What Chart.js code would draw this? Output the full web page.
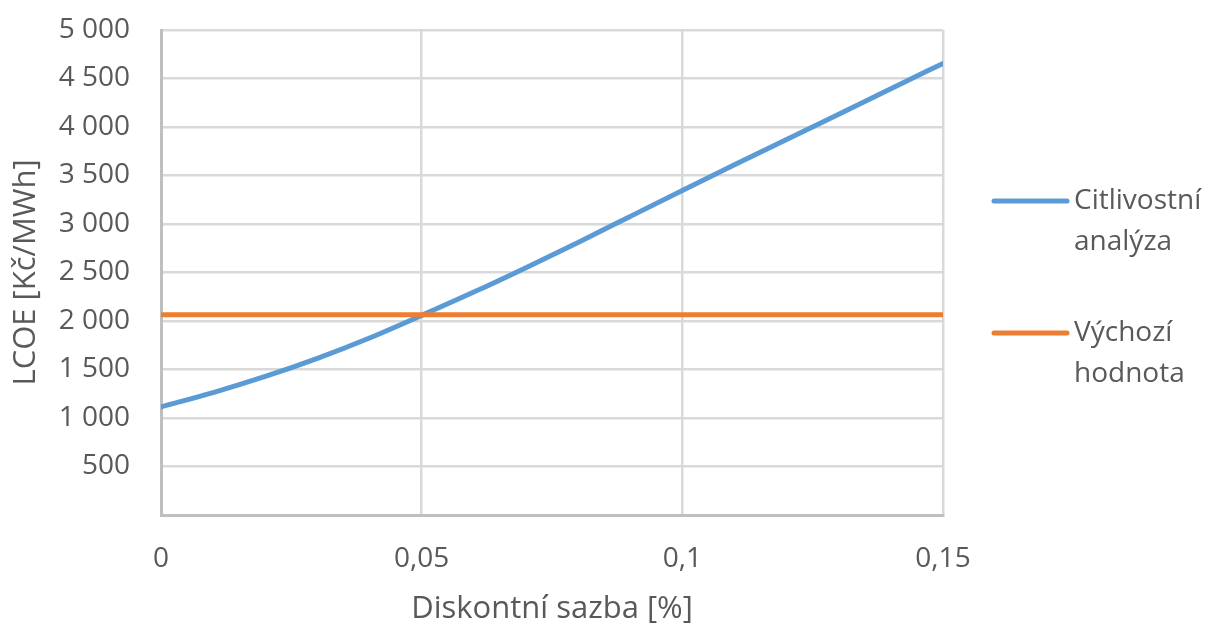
<!DOCTYPE html>
<html lang="cs">
<head>
<meta charset="utf-8">
<title>LCOE – citlivostní analýza</title>
<script src="https://cdn.jsdelivr.net/npm/chart.js@4.4.1/dist/chart.umd.min.js"></script>
<style>
  html, body { margin: 0; padding: 0; background: #ffffff; }
  #wrap { width: 1205px; height: 625px; position: relative; }
</style>
</head>
<body>
<div id="wrap"><canvas id="chart" width="1205" height="625"></canvas></div>
<script>
// Discount rate (x) and LCOE values in Kč/MWh
const discountRates = [0, 0.01, 0.02, 0.03, 0.04, 0.05, 0.06, 0.07, 0.08, 0.09, 0.10, 0.11, 0.12, 0.13, 0.14, 0.15];
const sensitivityLcoe = [1115, 1262, 1428, 1615, 1825, 2058, 2298, 2550, 2810, 3078, 3345, 3610, 3872, 4132, 4395, 4655];
const baselineRates = [0, 0.15];
const baselineLcoe = [2065, 2065];

const seriesNames = [['Citlivostní', 'analýza'], ['Výchozí', 'hodnota']];
const seriesColors = ['#5B9BD5', '#ED7D31'];

const xTickLabels = ['0', '0,05', '0,1', '0,15'];
const yTickLabels = ['', '500', '1 000', '1 500', '2 000', '2 500', '3 000', '3 500', '4 000', '4 500', '5 000'];

const textColor = '#595959';
const fontFamily = '"Open Sans", "Noto Sans", sans-serif';
const tickSize = 28;
const titleSize = 31;
const legendSize = 28;

const toPoints = (xs, ys) => xs.map((x, i) => ({ x, y: ys[i] }));

// Two-line legend on the right, drawn next to the plot area
const sideLegend = {
  id: 'sideLegend',
  afterDraw(chart) {
    const { ctx, chartArea } = chart;
    const x0 = chartArea.right + 51;
    const lineLen = 73;
    const textX = x0 + lineLen + 7;
    const lineGap = 41;
    const firstY = chartArea.top + 171;
    const entryGap = 132;
    ctx.save();
    ctx.font = legendSize + 'px ' + fontFamily;
    ctx.textBaseline = 'middle';
    ctx.textAlign = 'left';
    seriesNames.forEach((lines, i) => {
      const y = firstY + i * entryGap;
      ctx.strokeStyle = seriesColors[i];
      ctx.lineWidth = 5;
      ctx.lineCap = 'round';
      ctx.beginPath();
      ctx.moveTo(x0, y);
      ctx.lineTo(x0 + lineLen, y);
      ctx.stroke();
      ctx.fillStyle = textColor;
      lines.forEach((t, j) => ctx.fillText(t, textX, y + j * lineGap));
    });
    ctx.restore();
  }
};

new Chart(document.getElementById('chart'), {
  type: 'scatter',
  data: {
    datasets: [
      {
        label: seriesNames[0].join(' '),
        data: toPoints(discountRates, sensitivityLcoe),
        showLine: true,
        borderColor: seriesColors[0],
        backgroundColor: seriesColors[0],
        borderWidth: 5,
        pointRadius: 0,
        cubicInterpolationMode: 'monotone',
        borderCapStyle: 'round',
        order: 1
      },
      {
        label: seriesNames[1].join(' '),
        data: toPoints(baselineRates, baselineLcoe),
        showLine: true,
        borderColor: seriesColors[1],
        backgroundColor: seriesColors[1],
        borderWidth: 5,
        pointRadius: 0,
        borderCapStyle: 'round',
        order: 0
      }
    ]
  },
  options: {
    responsive: false,
    animation: false,
    devicePixelRatio: 1,
    layout: { padding: { top: 0, right: 262, left: 0, bottom: 0 } },
    plugins: {
      legend: { display: false },
      tooltip: { enabled: false }
    },
    scales: {
      x: {
        type: 'linear',
        min: 0,
        max: 0.15,
        ticks: {
          stepSize: 0.05,
          color: textColor,
          font: { family: fontFamily, size: tickSize },
          padding: 27,
          maxRotation: 0,
          callback: (v, i) => xTickLabels[i]
        },
        grid: { color: '#d9d9d9', lineWidth: 2.5, drawTicks: false },
        border: { color: '#bfbfbf', width: 3 },
        title: {
          display: true,
          text: 'Diskontní sazba [%]',
          color: textColor,
          font: { family: fontFamily, size: titleSize, lineHeight: 1 },
          padding: { top: 0, bottom: 0 }
        },
        afterFit: (s) => { s.height = 110; }
      },
      y: {
        type: 'linear',
        min: 0,
        max: 5000,
        ticks: {
          stepSize: 500,
          color: textColor,
          font: { family: fontFamily, size: tickSize },
          padding: 31,
          callback: (v, i) => yTickLabels[i]
        },
        grid: { color: '#d9d9d9', lineWidth: 2.5, drawTicks: false },
        border: { color: '#bfbfbf', width: 3 },
        title: {
          display: true,
          text: 'LCOE [Kč/MWh]',
          color: textColor,
          font: { family: fontFamily, size: titleSize, lineHeight: 1 },
          padding: { top: 11, bottom: 0 }
        },
        afterFit: (s) => { s.width = 161; s.paddingTop = 30; }
      }
    }
  },
  plugins: [sideLegend]
});
</script>
</body>
</html>
